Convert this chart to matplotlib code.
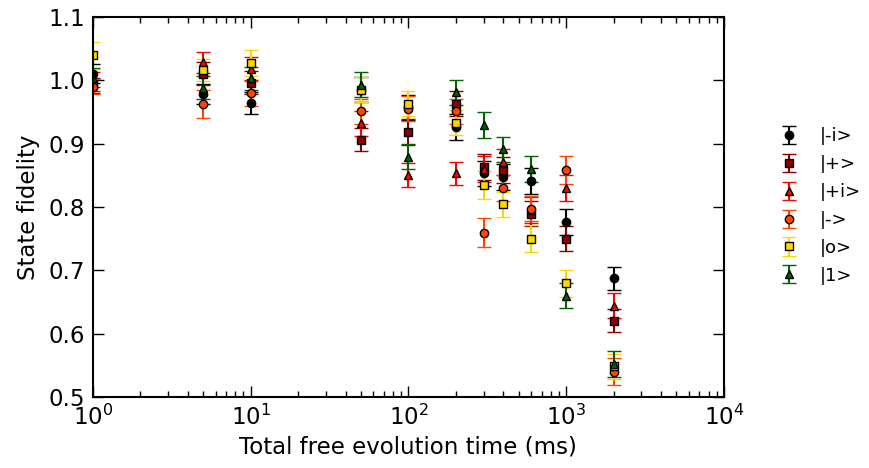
import matplotlib
matplotlib.use("Agg")
import matplotlib.pyplot as plt
from matplotlib.ticker import FormatStrFormatter, LogLocator

# Free evolution times (ms)
times = [1, 5, 10, 50, 100, 200, 300, 400, 600, 1000, 2000]

# State fidelities and their uncertainties for each prepared state
fid_minus_i = [1.010, 0.978, 0.964, 0.985, 0.957, 0.926, 0.853, 0.847, 0.841, 0.776, 0.687]
err_minus_i = [0.015, 0.016, 0.018, 0.020, 0.020, 0.020, 0.020, 0.020, 0.020, 0.020, 0.018]

fid_plus = [0.992, 1.010, 0.996, 0.906, 0.918, 0.963, 0.863, 0.858, 0.789, 0.750, 0.620]
err_plus = [0.012, 0.018, 0.018, 0.018, 0.020, 0.020, 0.020, 0.020, 0.020, 0.020, 0.018]

fid_plus_i = [0.998, 1.028, 1.018, 0.932, 0.850, 0.853, 0.860, 0.871, 0.795, 0.830, 0.644]
err_plus_i = [0.015, 0.016, 0.018, 0.020, 0.019, 0.018, 0.020, 0.020, 0.020, 0.020, 0.020]

fid_minus = [0.990, 0.963, 0.979, 0.951, 0.955, 0.951, 0.759, 0.830, 0.797, 0.858, 0.540]
err_minus = [0.012, 0.022, 0.020, 0.020, 0.020, 0.020, 0.023, 0.020, 0.020, 0.022, 0.022]

fid_zero = [1.039, 1.016, 1.027, 0.985, 0.963, 0.933, 0.835, 0.804, 0.750, 0.679, 0.548]
err_zero = [0.022, 0.018, 0.020, 0.020, 0.020, 0.020, 0.022, 0.020, 0.022, 0.022, 0.020]

fid_one = [1.004, 0.988, 1.003, 0.993, 0.879, 0.981, 0.929, 0.891, 0.860, 0.660, 0.552]
err_one = [0.015, 0.018, 0.018, 0.020, 0.020, 0.020, 0.020, 0.020, 0.020, 0.020, 0.020]

labels = ["|-i>", "|+>", "|+i>", "|->", "|o>", "|1>"]
colors = ["black", "darkred", "red", "orangered", "gold", "darkgreen"]
markers = ["o", "s", "^", "o", "s", "^"]

series = [
    (fid_minus_i, err_minus_i),
    (fid_plus, err_plus),
    (fid_plus_i, err_plus_i),
    (fid_minus, err_minus),
    (fid_zero, err_zero),
    (fid_one, err_one),
]

plt.rcParams["font.family"] = "DejaVu Sans"
plt.rcParams["xtick.direction"] = "in"
plt.rcParams["ytick.direction"] = "in"

fig = plt.figure(figsize=(8.69, 4.68), dpi=100)
ax = fig.add_axes([0.107, 0.152, 0.726, 0.812])

for (vals, errs), lab, col, mk in zip(series, labels, colors, markers):
    ax.errorbar(times, vals, yerr=errs, fmt=mk, color=col, ecolor=col,
                mfc=col, mec="black", mew=1.0, ms=6,
                elinewidth=1.5, capsize=5, capthick=1.5, label=lab)

ax.set_xscale("log")
ax.set_xlim(1, 1e4)
ax.set_ylim(0.5, 1.1)
ax.set_yticks([0.5, 0.6, 0.7, 0.8, 0.9, 1.0, 1.1])
ax.yaxis.set_major_formatter(FormatStrFormatter("%.1f"))
ax.xaxis.set_major_locator(LogLocator(base=10, numticks=10))

ax.tick_params(which="both", top=True, right=True, direction="in")
ax.tick_params(which="major", length=8, width=1, labelsize=16.5, pad=6)
ax.tick_params(which="minor", length=4, width=1)
for sp in ax.spines.values():
    sp.set_linewidth(1.5)

ax.set_xlabel("Total free evolution time (ms)", fontsize=16.5, labelpad=4)
ax.set_ylabel("State fidelity", fontsize=16.5, labelpad=6)

ax.legend(loc="center left", bbox_to_anchor=(0.879, 0.56),
          bbox_transform=fig.transFigure, frameon=False, numpoints=1,
          fontsize=13, handlelength=1.0, labelspacing=0.55, handletextpad=1.2)

fig.savefig("out.png", dpi=100)
